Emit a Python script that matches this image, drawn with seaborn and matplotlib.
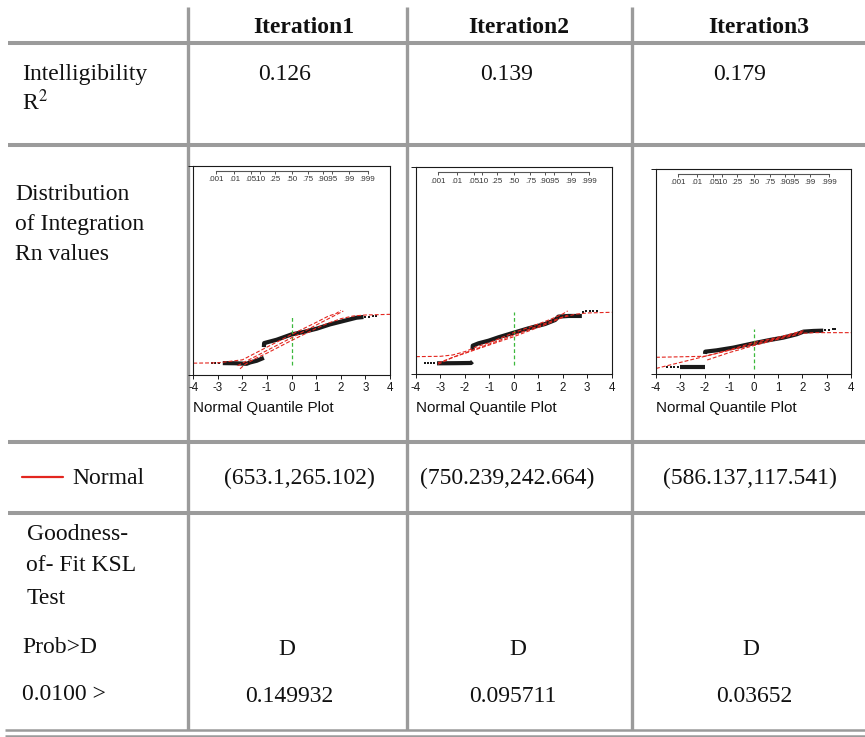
import matplotlib
matplotlib.use("Agg")
import matplotlib.pyplot as plt
import seaborn as sns

W, H = 865, 737

# table contents
col_headers = ["Iteration1", "Iteration2", "Iteration3"]
r2_values = ["0.126", "0.139", "0.179"]
normal_fits = ["(653.1,265.102)", "(750.239,242.664)", "(586.137,117.541)"]
ksl_values = ["0.149932", "0.095711", "0.03652"]

# axes of the quantile plots
quantile_ticks = [-4, -3, -2, -1, 0, 1, 2, 3, 4]
prob_labels = [".001", ".01", ".05", ".10", ".25", ".50", ".75", ".90", ".95", ".99", ".999"]
prob_quantiles = [-3.09, -2.326, -1.645, -1.282, -0.674, 0.0, 0.674, 1.282, 1.645, 2.326, 3.09]

# Iteration1: values
it1_ylim = (-115, 4241)
it1_low_z = [-2.8, -2.3, -1.83, -1.69, -1.42, -1.13]
it1_low_y = [123, 120, 109, 137, 172, 234]
it1_up_z = [-1.13, -1.12, -1.02, -0.61, 0.0, 0.47, 1.02, 1.56, 2.1, 2.64, 2.92]
it1_up_y = [458, 541, 555, 611, 723, 772, 842, 932, 1002, 1072, 1086]
it1_dots_z = [-3.25, -3.1, -2.95, 3.0, 3.15, 3.3, 3.45]
it1_dots_y = [123, 123, 123, 1090, 1094, 1097, 1100]
it1_fit_z = [-2.2, 2.1]
it1_fit_y = [70, 1210]
it1_hi_z = [-4, -3, -2, -1, 0, 1, 1.5, 1.8, 2.0]
it1_hi_y = [122, 129, 192, 458, 722, 974, 1107, 1156, 1225]
it1_lo_z = [-2.1, -1.9, -1.5, -1, 0, 1, 1.5, 2, 2.5, 3, 4]
it1_lo_y = [4, 95, 213, 332, 597, 849, 960, 1051, 1107, 1128, 1142]
it1_ref_y = [74, 1086]

# Iteration2
it2_ylim = (-302, 5272)
it2_low_z = [-3.14, -2.4, -1.75, -1.69]
it2_low_y = [-14, -10, -5, 31]
it2_up_z = [-1.69, -1.68, -1.44, -1.03, -0.63, 0.0, 0.6, 1.28, 1.69, 1.82, 2.23, 2.78]
it2_up_y = [346, 463, 526, 597, 687, 813, 930, 1047, 1155, 1245, 1263, 1263]
it2_dots_z = [-3.62, -3.5, -3.38, -3.26, 2.84, 2.95, 3.1, 3.25, 3.4]
it2_dots_y = [4, 4, 4, 4, 1380, 1388, 1392, 1395, 1398]
it2_fit_z = [-3.1, 2.2]
it2_fit_y = [-2, 1284]
it2_hi_z = [-4, -3, -2.5, -2, -1.5, -1, 0, 1, 1.5, 2.0, 2.2]
it2_hi_y = [166, 175, 211, 301, 436, 543, 813, 1047, 1173, 1317, 1398]
it2_lo_z = [-3.1, -2.5, -2, -1, 0, 1, 1.5, 2, 2.5, 3, 4]
it2_lo_y = [-41, 148, 256, 481, 705, 957, 1083, 1227, 1308, 1344, 1362]
it2_ref_y = [-59, 1380]

# Iteration3
it3_ylim = (8, 3993)
it3_low_z = [-3.0, -1.99]
it3_low_y = [138, 138]
it3_up_z = [-1.99, -1.98, -1.51, -0.83, 0.0, 0.68, 1.22, 1.77, 2.05, 2.46, 2.86]
it3_up_y = [398, 443, 469, 521, 606, 671, 716, 781, 833, 846, 852]
it3_dots_z = [-3.56, -3.4, -3.25, -3.1, 2.95, 3.1, 3.25, 3.34]
it3_dots_y = [138, 138, 138, 138, 860, 868, 875, 878]
it3_fit_z = [-4, 2.05]
it3_fit_y = [116, 827]
it3_hi_z = [-4, -2, -1.5, -1, 0, 1, 1.8, 2.05]
it3_hi_y = [333, 353, 411, 476, 619, 722, 820, 852]
it3_lo_z = [-1.9, -1, 0, 1, 2, 2.5, 3, 4]
it3_lo_y = [281, 424, 560, 684, 800, 813, 813, 813]
it3_ref_y = [106, 878]

panels = [
    dict(box=(193.3, 166, 390, 374.5), ylim=it1_ylim, low=(it1_low_z, it1_low_y), up=(it1_up_z, it1_up_y),
         dots=(it1_dots_z, it1_dots_y), fit=(it1_fit_z, it1_fit_y), hi=(it1_hi_z, it1_hi_y),
         lo=(it1_lo_z, it1_lo_y), ref=it1_ref_y),
    dict(box=(416, 167.3, 611.7, 374), ylim=it2_ylim, low=(it2_low_z, it2_low_y), up=(it2_up_z, it2_up_y),
         dots=(it2_dots_z, it2_dots_y), fit=(it2_fit_z, it2_fit_y), hi=(it2_hi_z, it2_hi_y),
         lo=(it2_lo_z, it2_lo_y), ref=it2_ref_y),
    dict(box=(656, 169.3, 851, 374), ylim=it3_ylim, low=(it3_low_z, it3_low_y), up=(it3_up_z, it3_up_y),
         dots=(it3_dots_z, it3_dots_y), fit=(it3_fit_z, it3_fit_y), hi=(it3_hi_z, it3_hi_y),
         lo=(it3_lo_z, it3_lo_y), ref=it3_ref_y),
]

# table layout (pixels)
h_rules = [42.7, 145.3, 441.7, 513]
bottom_rules = [730, 735.5]
v_rules = [187.5, 407, 632]
header_x = [304, 519, 759]
r2_x = [285, 506.5, 740]
fit_x = [299, 507, 749.5]
d_x = [287, 518, 751]
ksl_x = [289, 513, 754.5]

sns.set_theme(style="ticks")
plt.rcParams["font.family"] = ["Liberation Serif", "DejaVu Serif"]
plt.rcParams["mathtext.fontset"] = "stix"
plt.rcParams["axes.unicode_minus"] = False
sans = ["Liberation Sans", "DejaVu Sans"]

grey = "#9b9b9b"
red = "#e3261f"
green = "#3cb83c"

fig = plt.figure(figsize=(W / 100, H / 100), dpi=100)
bg = fig.add_axes([0, 0, 1, 1])
bg.set_xlim(0, W)
bg.set_ylim(H, 0)
bg.axis("off")

bg.hlines(h_rules, 8, W, color=grey, lw=2.9)
bg.hlines(bottom_rules, 5, W, color=grey, lw=1.8)
bg.vlines(v_rules, 7, 730, color=grey, lw=2.4)

body = dict(fontsize=17, va="baseline", color="#111111")
for x, t in zip(header_x, col_headers):
    bg.text(x, 33, t, ha="center", fontweight="bold", **body)
bg.text(22, 80, "Intelligibility", **body)
bg.text(22, 110, r"R$^2$", **body)
for x, t in zip(r2_x, r2_values):
    bg.text(x, 80, t, ha="center", **body)

bg.text(15, 200, "Distribution", **body)
bg.text(15, 230, "of Integration", **body)
bg.text(15, 260, "Rn values", **body)

bg.plot([22, 63], [477, 477], color=red, lw=1.6)
bg.text(72, 484, "Normal", **body)
for x, t in zip(fit_x, normal_fits):
    bg.text(x, 484, t, ha="center", **body)

bg.text(27, 540, "Goodness-", **body)
bg.text(26, 571, "of- Fit KSL", **body)
bg.text(27, 604, "Test", **body)
bg.text(22, 653, "Prob>D", **body)
bg.text(22, 700, "0.0100 >", **body)
for x in d_x:
    bg.text(x, 655, "D", ha="center", **body)
for x, t in zip(ksl_x, ksl_values):
    bg.text(x, 701.5, t, ha="center", **body)

dash = (0, (3.5, 1.8))
for p in panels:
    l, t, r, b = p["box"]
    ax = fig.add_axes([l / W, 1 - b / H, (r - l) / W, (b - t) / H])
    ax.set_facecolor("white")

    sns.lineplot(x=p["low"][0], y=p["low"][1], ax=ax, color="k", lw=3.0,
                 sort=False, estimator=None, solid_capstyle="butt")
    sns.lineplot(x=p["up"][0], y=p["up"][1], ax=ax, color="k", lw=3.0,
                 sort=False, estimator=None, solid_capstyle="butt")
    sns.scatterplot(x=p["dots"][0], y=p["dots"][1], ax=ax, color="k", s=3,
                    marker="s", linewidth=0)
    sns.lineplot(x=[0, 0], y=p["ref"], ax=ax, color=green, lw=0.9,
                 linestyle=(0, (3, 2)), sort=False, estimator=None)
    for key in ("fit", "hi", "lo"):
        sns.lineplot(x=p[key][0], y=p[key][1], ax=ax, color=red, lw=0.8,
                     linestyle=dash, sort=False, estimator=None)

    ax.set_xlim(-4, 4)
    ax.set_ylim(*p["ylim"])
    ax.set_xticks(quantile_ticks)
    ax.set_yticks(list(p["ylim"]))
    ax.set_yticklabels([])
    ax.tick_params(axis="x", labelsize=8.3, length=3, width=0.7, pad=2.5,
                   labelfontfamily=sans, colors="k")
    ax.tick_params(axis="y", length=3.6, width=0.7, colors="k")
    for s in ax.spines.values():
        s.set_visible(True)
        s.set_color("k")
        s.set_linewidth(0.8)
    ax.set_ylabel("")
    ax.set_xlabel("Normal Quantile Plot", loc="left", fontsize=11,
                  fontfamily=sans, labelpad=5, color="#111111")

    sec = ax.secondary_xaxis(0.976)
    sec.set_alignment("bottom")
    sec.set_ticks(prob_quantiles, labels=prob_labels)
    sec.tick_params(labelsize=5.8, length=2.2, width=0.6, pad=1.6,
                    labelfontfamily=sans, colors="#333333")
    sec.spines["bottom"].set_bounds(prob_quantiles[0], prob_quantiles[-1])
    sec.spines["bottom"].set_linewidth(0.8)
    sec.spines["bottom"].set_color("#555555")

fig.savefig("out.png", dpi=100)
